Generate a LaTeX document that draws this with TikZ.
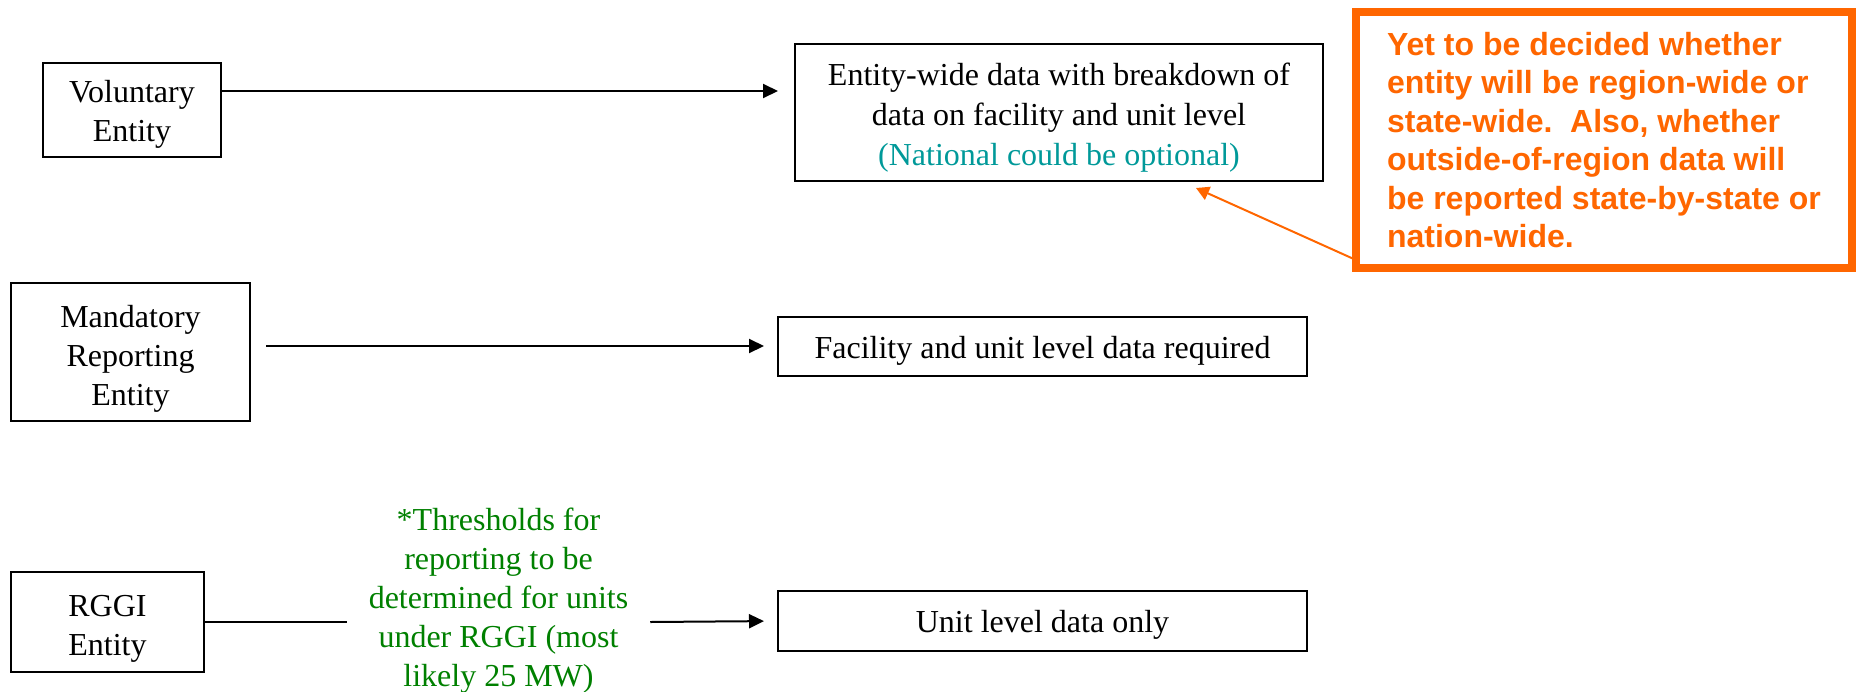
\documentclass[tikz,border=0pt]{standalone}
\usepackage{fontspec}
\setmainfont{Liberation Serif}
\newfontfamily\notefont{Liberation Sans}
\usetikzlibrary{positioning, arrows.meta}

\definecolor{noteorange}{RGB}{255,102,0}
\definecolor{natteal}{RGB}{0,153,153}
\definecolor{thrgreen}{RGB}{0,128,0}

% invisible strut that pushes the text of a box a little down
\newcommand\boxtop[1][32pt]{\rule{0pt}{#1}}

\begin{document}
\begin{tikzpicture}[x=1pt,y=-1pt,
	box/.style={draw,line width=2pt,outer sep=0pt,align=center,font=\fontsize{32}{39}\selectfont},
	flow/.style={line width=2pt,-{Triangle[length=15pt,width=14pt]}},
	link/.style={line width=2pt}]
	\useasboundingbox (0,0) rectangle (1860,691);

	\node (vol) at (132,110) [box,minimum width=178pt,minimum height=94pt] {\boxtop[30pt]Voluntary\\Entity};
	\node (mand) at (130.5,352) [box,minimum width=239pt,minimum height=138pt] {\boxtop[35pt]Mandatory\\Reporting\\Entity};
	\node (rggi) at (107.5,622) [box,minimum width=193pt,minimum height=100pt] {\boxtop[35pt]RGGI\\Entity};

	\node (ent) at (1059,112.5) [box,minimum width=528pt,minimum height=137pt,font=\fontsize{32}{40}\selectfont] {\boxtop Entity-wide data with breakdown of\\data on facility and unit level\\\textcolor{natteal}{(National could be optional)}};
	\node (fac) at (1042.5,346) [box,minimum width=529pt,minimum height=59pt] {\boxtop Facility and unit level data required};
	\node (unit) at (1042.5,621) [box,minimum width=529pt,minimum height=60pt] {\boxtop[30pt]Unit level data only};

	\node (thr) at (498.5,601) [align=center,inner xsep=22pt,outer sep=0pt,text=thrgreen,font=\fontsize{32}{39}\selectfont] {*Thresholds for\\reporting to be\\determined for units\\under RGGI (most\\likely 25 MW)};

	\node (note) at (1604,140) [draw=noteorange,line width=8pt,outer sep=0pt,minimum width=496pt,minimum height=256pt,align=left,text=noteorange,font=\notefont\bfseries\fontsize{32}{38.5}\selectfont] {Yet to be decided whether\\entity will be region-wide or\\state-wide.\ \ Also, whether\\outside-of-region data will\\be reported state-by-state or\\nation-wide.};
	\coordinate (ptr) at (1196,188);

	\draw[flow,shorten >=17pt] ([yshift=19pt]vol.east) -- ([yshift=21.5pt]ent.west);
	\draw[flow,shorten <=16pt,shorten >=14pt] (mand.east |- fac.west) -- (fac.west);
	\draw[link] (rggi.east) -- (rggi.east -| thr.west);
	\draw[flow,shorten >=14pt] (rggi.east -| thr.east) -- (unit.west);
	\draw[noteorange,line width=2pt,-{Triangle[length=13pt,width=14pt]}] ([yshift=8pt]note.south west) -- (ptr);
\end{tikzpicture}
\end{document}
